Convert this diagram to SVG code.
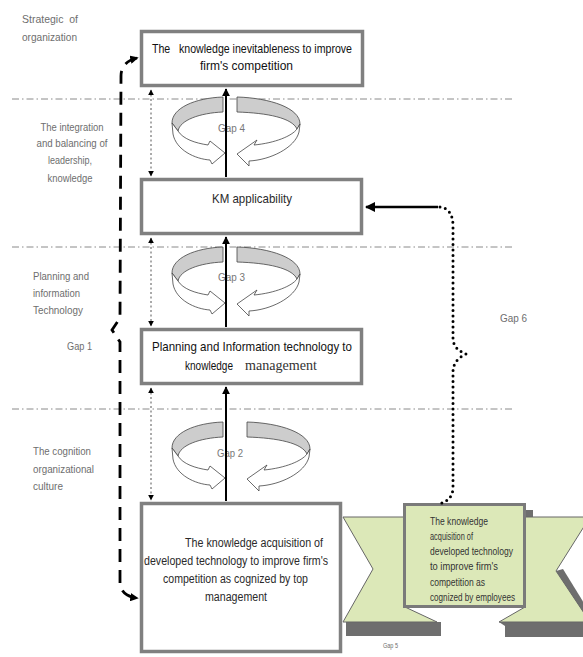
<svg xmlns="http://www.w3.org/2000/svg" width="583" height="657" viewBox="0 0 583 657">
<defs>
<style>
.lbl{font-family:"Liberation Sans Narrow","Liberation Sans",Arial,sans-serif;font-size:11px;fill:#6e6e6e}
.box{fill:#fff;stroke:#808080;stroke-width:3.5}
.bt{font-family:"Liberation Sans Narrow","Liberation Sans",Arial,sans-serif;font-size:13px;fill:#2a2a2a}
.gt{font-family:"Liberation Sans Narrow","Liberation Sans",Arial,sans-serif;font-size:10.5px;fill:#333}
.sep{stroke:#8a8a8a;stroke-width:1;stroke-dasharray:7 3 1.5 3;fill:none}
.main{stroke:#000;stroke-width:2;fill:none}
.dot{stroke:#555;stroke-width:1;stroke-dasharray:2 2.5;fill:none}
.brace{stroke:#000;stroke-width:2.8;stroke-dasharray:13 8;fill:none}
.dots{stroke:#000;stroke-width:3;stroke-dasharray:0 5.5;stroke-linecap:round;fill:none}
.rb{fill:#cdcdcd;stroke:#444;stroke-width:0.8}
.rf{fill:#fff;stroke:#444;stroke-width:0.8}
.wing{fill:#dce8b8;stroke:#666;stroke-width:1}
.shd{fill:#6e6e6e}
</style>
<marker id="ah" viewBox="0 0 10 10" refX="9" refY="5" markerWidth="4" markerHeight="4" orient="auto-start-reverse"><path d="M0,0 L10,5 L0,10 Z" fill="#000"/></marker>
<marker id="ahs" viewBox="0 0 10 10" refX="9" refY="5" markerWidth="6" markerHeight="6" orient="auto-start-reverse"><path d="M0,0 L10,5 L0,10 Z" fill="#000"/></marker>
<marker id="ahb" viewBox="0 0 10 10" refX="8" refY="5" markerWidth="3" markerHeight="3" orient="auto-start-reverse"><path d="M0,0 L10,5 L0,10 Z" fill="#000"/></marker>
<g id="ringL">
<path class="rb" d="M223,97 C195,98 172,108 172,123 L178,131 C180,120 200,113 223,112 Z"/>
<path class="rf" d="M172,123 L173,134 C176,150 195,159 210,160 L212,164 L225,153 L210,141 L208,145 C195,143 183,139 178,131 Z"/>
</g>
<g id="ringR">
<path class="rb" d="M237,97 C270,98 300,108 300,124 L297,129 C292,118 268,113 237,112 Z"/>
<path class="rf" d="M300,124 L299,132 C295,148 270,160 249,161 L249,166 L237,154 L257,140 L254,145 C275,143 292,136 297,129 Z"/>
</g>
</defs>

<g id="separators">
<line class="sep" x1="12" y1="99" x2="512" y2="99"/>
<line class="sep" x1="12" y1="247" x2="512" y2="247"/>
<line class="sep" x1="12" y1="409" x2="512" y2="409"/>
</g>

<g id="level-labels">
<text class="lbl" x="22" y="23" textLength="56" lengthAdjust="spacingAndGlyphs" style="white-space:pre">Strategic  of</text>
<text class="lbl" x="22" y="41" textLength="55" lengthAdjust="spacingAndGlyphs">organization</text>
<text class="lbl" x="72" y="131" text-anchor="middle" textLength="63" lengthAdjust="spacingAndGlyphs">The integration</text>
<text class="lbl" x="72" y="147" text-anchor="middle" textLength="71" lengthAdjust="spacingAndGlyphs">and balancing of</text>
<text class="lbl" x="70" y="164" text-anchor="middle" textLength="44" lengthAdjust="spacingAndGlyphs">leadership,</text>
<text class="lbl" x="70" y="182" text-anchor="middle" textLength="45" lengthAdjust="spacingAndGlyphs">knowledge</text>
<text class="lbl" x="33" y="280" textLength="56" lengthAdjust="spacingAndGlyphs">Planning and</text>
<text class="lbl" x="33" y="297" textLength="47" lengthAdjust="spacingAndGlyphs">information</text>
<text class="lbl" x="33" y="314" textLength="50" lengthAdjust="spacingAndGlyphs">Technology</text>
<text class="lbl" x="67" y="350" textLength="25" lengthAdjust="spacingAndGlyphs">Gap 1</text>
<text class="lbl" x="33" y="455" textLength="58" lengthAdjust="spacingAndGlyphs">The cognition</text>
<text class="lbl" x="33" y="473" textLength="61" lengthAdjust="spacingAndGlyphs">organizational</text>
<text class="lbl" x="33" y="490" textLength="30" lengthAdjust="spacingAndGlyphs">culture</text>
</g>

<g id="gap5-ribbon">
<rect class="shd" x="522" y="510" width="11" height="10"/>
<polygon class="shd" points="346,622 441,622 441,636 346,636"/>
<polygon class="shd" points="499,622 583,622 583,637 505,637 505,626"/>
<polygon class="shd" points="556,571 563,569 592,616 588,622"/>
<polygon class="wing" points="343,517 405,517 405,607 437,622 343,622 373,569"/>
<polygon class="wing" points="520,517 590,517 556,571 590,622 499,622 525,607"/>
<rect x="404.5" y="504.5" width="120" height="102" fill="#dce8b8" stroke="#7a7a7a" stroke-width="3"/>
<text class="gt" x="430" y="525" textLength="58" lengthAdjust="spacingAndGlyphs">The knowledge</text>
<text class="gt" x="430" y="540" textLength="43" lengthAdjust="spacingAndGlyphs">acquisition of</text>
<text class="gt" x="430" y="555" textLength="83" lengthAdjust="spacingAndGlyphs">developed technology</text>
<text class="gt" x="430" y="570" textLength="68" lengthAdjust="spacingAndGlyphs">to improve firm's</text>
<text class="gt" x="430" y="586" textLength="55" lengthAdjust="spacingAndGlyphs">competition as</text>
<text class="gt" x="430" y="601" textLength="85" lengthAdjust="spacingAndGlyphs">cognized by employees</text>
<text class="lbl" x="383" y="648" textLength="15" lengthAdjust="spacingAndGlyphs" style="font-size:7.5px">Gap 5</text>
</g>

<g id="box1">
<rect class="box" x="141.5" y="31.5" width="221" height="54"/>
<text class="bt" x="152" y="53" textLength="200" lengthAdjust="spacingAndGlyphs" style="white-space:pre;fill:#111">The   knowledge inevitableness to improve</text>
<text class="bt" x="200" y="70" textLength="93" lengthAdjust="spacingAndGlyphs" style="fill:#111">firm's competition</text>
</g>

<g id="box2">
<rect class="box" x="141.5" y="179.5" width="220" height="54"/>
<text class="bt" x="212" y="203" textLength="80" lengthAdjust="spacingAndGlyphs" style="font-size:13.5px">KM applicability</text>
</g>

<g id="box3">
<rect class="box" x="141.5" y="329.5" width="220" height="54"/>
<text class="bt" x="152" y="351" textLength="200" lengthAdjust="spacingAndGlyphs" style="fill:#111;font-size:13.5px">Planning and Information technology to</text>
<text class="bt" x="185" y="370" textLength="48" lengthAdjust="spacingAndGlyphs" style="fill:#111;font-size:13.5px">knowledge</text>
<text x="245" y="370" textLength="72" lengthAdjust="spacingAndGlyphs" style="font-family:'Liberation Serif',serif;font-size:14px;fill:#333">management</text>
</g>

<g id="box4">
<rect class="box" x="141.5" y="503.5" width="199" height="148"/>
<text class="bt" x="185" y="547" textLength="138" lengthAdjust="spacingAndGlyphs" style="font-size:12.5px">The knowledge acquisition of</text>
<text class="bt" x="144" y="565" textLength="184" lengthAdjust="spacingAndGlyphs" style="font-size:12.5px">developed technology to improve firm's</text>
<text class="bt" x="163" y="583" textLength="145" lengthAdjust="spacingAndGlyphs" style="font-size:12.5px">competition as cognized by top</text>
<text class="bt" x="205" y="601" textLength="62" lengthAdjust="spacingAndGlyphs" style="font-size:12.5px">management</text>
</g>

<g id="gap-rings">
<use href="#ringL"/>
<use href="#ringR"/>
<use href="#ringL" transform="translate(0,150)"/>
<use href="#ringR" transform="translate(0,150)"/>
<use href="#ringL" transform="translate(0,325)"/>
<use href="#ringR" transform="translate(10,325)"/>
<text class="lbl" x="218" y="132" textLength="27" lengthAdjust="spacingAndGlyphs" style="fill:#777">Gap 4</text>
<text class="lbl" x="218" y="281" textLength="27" lengthAdjust="spacingAndGlyphs" style="fill:#777">Gap 3</text>
<text class="lbl" x="217" y="457" textLength="26" lengthAdjust="spacingAndGlyphs" style="fill:#777">Gap 2</text>
<text class="lbl" x="500" y="322" textLength="27" lengthAdjust="spacingAndGlyphs">Gap 6</text>
</g>

<g id="connectors">
<line class="main" x1="226" y1="177" x2="226" y2="89" marker-end="url(#ah)"/>
<line class="main" x1="226" y1="327" x2="226" y2="237" marker-end="url(#ah)"/>
<line class="main" x1="226" y1="501" x2="226" y2="387" marker-end="url(#ah)"/>
<line class="dot" x1="151" y1="90" x2="151" y2="176" marker-start="url(#ahs)" marker-end="url(#ahs)"/>
<line class="dot" x1="151" y1="238" x2="151" y2="326" marker-start="url(#ahs)" marker-end="url(#ahs)"/>
<line class="dot" x1="151" y1="388" x2="151" y2="500" marker-start="url(#ahs)" marker-end="url(#ahs)"/>
<path class="brace" d="M137,58 Q121,62 121,76 L120,318 L112,330 L120,342 L120,583 Q121,596 137,598" marker-start="url(#ahb)" marker-end="url(#ahb)"/>
<line x1="438" y1="207" x2="366" y2="207" stroke="#000" stroke-width="2.5" marker-end="url(#ah)"/>
<path class="dots" d="M440,207 C448,208 453,214 453,226 L453,338 Q453,349 466,354 Q453,360 453,372 L453,487 Q453,501 438,504"/>
</g>
</svg>
